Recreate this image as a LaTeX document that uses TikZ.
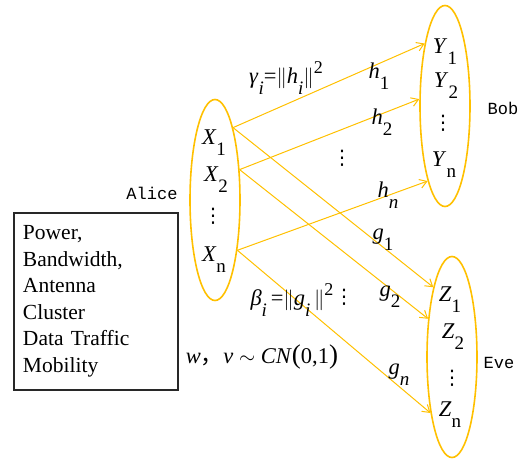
\documentclass[tikz,border=0pt]{standalone}
\usepackage{fontspec}
\setmainfont{Liberation Serif}
\newfontfamily\namefont{Liberation Mono}
\newfontfamily\cjk{Noto Sans CJK SC}
\newfontfamily\symfont{DejaVu Sans}
\usetikzlibrary{shapes.geometric,arrows.meta}

\definecolor{LinkGold}{RGB}{255,192,0}
\definecolor{BoxGrey}{RGB}{40,40,40}
\newcommand{\lw}[1]{\raisebox{-11pt}{\fontsize{19}{19}\selectfont #1}}
\newcommand{\hi}[1]{\raisebox{10pt}{\fontsize{18}{18}\selectfont #1}}
\newcommand{\vd}{{\symfont ⋮}}

\begin{document}
\begin{tikzpicture}[x=1pt, y=-1pt,
    party/.style={draw=LinkGold, line width=1.6pt, ellipse, minimum width=50pt, minimum height=201pt},
    sym/.style={inner sep=0pt, font=\fontsize{22.5}{26}\selectfont},
    dots/.style={inner sep=0pt, font=\fontsize{20}{20}\selectfont},
    who/.style={inner sep=0pt, font=\namefont\fontsize{17}{20}\selectfont},
    link/.style={draw=LinkGold, line width=1pt, -{Straight Barb[length=7pt,width=9pt]}}]
                \useasboundingbox (0,0) rectangle (525,460);

                % The three parties
                \node[party] (alice) at (215,200) {};
                \node[party] (bob) at (445,106) {};
                \node[party] (eve) at (452,357) {};
                \node[who] (alicename) at (152,193) {Alice};
                \node[who] (bobname) at (503,108) {Bob};
                \node[who] (evename) at (499,363) {Eve};

                % Symbols inside the ellipses
                \node[sym] (x1) at (214,143) {\textit{X}\lw{1}};
                \node[sym] (x2) at (216,180) {\textit{X}\lw{2}};
                \node[dots] (xdots) at (213,216) {\vd};
                \node[sym] (xn) at (214,260) {\textit{X}\lw{n}};
                \node[sym] (y1) at (445,52) {\textit{Y}\lw{1}};
                \node[sym] (y2) at (446,86) {\textit{Y}\lw{2}};
                \node[dots] (ydots) at (443,123) {\vd};
                \node[sym] (yn) at (444,165) {\textit{Y}\lw{n}};
                \node[sym] (z1) at (450,300) {\textit{Z}\lw{1}};
                \node[sym] (z2) at (453,337) {\textit{Z}\lw{2}};
                \node[dots] (zdots) at (452,378) {\vd};
                \node[sym] (zn) at (450,415) {\textit{Z}\lw{n}};

                % Channels to Bob and to Eve
                \draw[link] (alice.76) -- (bob.108);
                \draw[link] (alice.76) -- (eve.105);
                \draw[link] (alice.51) -- (bob.165);
                \draw[link] (alice.51) -- (eve.122);
                \draw[link] (alice.-66) -- (bob.-103);
                \draw[link] (alice.-66) -- (eve.-111);

                % Channel gains
                \node[sym] (gain) at (286,78) {\textit{γ}\lw{\textit{i}}=$\|$\textit{h}\lw{\textit{i}}$\|$\hi{2}};
                \node[sym] (h1) at (379,76) {\textit{h}\lw{1}};
                \node[sym] (h2) at (382,122) {\textit{h}\lw{2}};
                \node[dots] (hdots) at (342,158) {\vd};
                \node[sym] (hn) at (388,195) {\textit{h}\lw{\textit{n}}};
                \node[sym] (g1) at (383,240) {\textit{g}\lw{1}};
                \node[sym] (g2) at (390,297) {\textit{g}\lw{2}};
                \node[dots] (gdots) at (344,297) {\vd};
                \node[sym] (gn) at (399,375) {\textit{g}\lw{\textit{n}}};
                \node[sym] (leak) at (292,300) {\textit{β}\lw{\textit{i}}\,=$\|$\textit{g}\lw{\textit{i}}\,$\|$\hi{2}};
                \node[sym] (noise) at (262,357) {\textit{w}{\cjk ，}\textit{v} $\sim$ \textit{CN}{\fontsize{27}{27}\selectfont(}0,1{\fontsize{27}{27}\selectfont)}};

                % Resources box
                \node[draw=BoxGrey, line width=1.1pt, text width=146pt, inner xsep=9pt, minimum height=177pt, align=left, font=\fontsize{21.5}{26.5}\selectfont] (limits) at (96,301.5) {Power,\\Bandwidth,\\Antenna\\Cluster\\Data Traffic\\Mobility};
            \end{tikzpicture}
\end{document}
